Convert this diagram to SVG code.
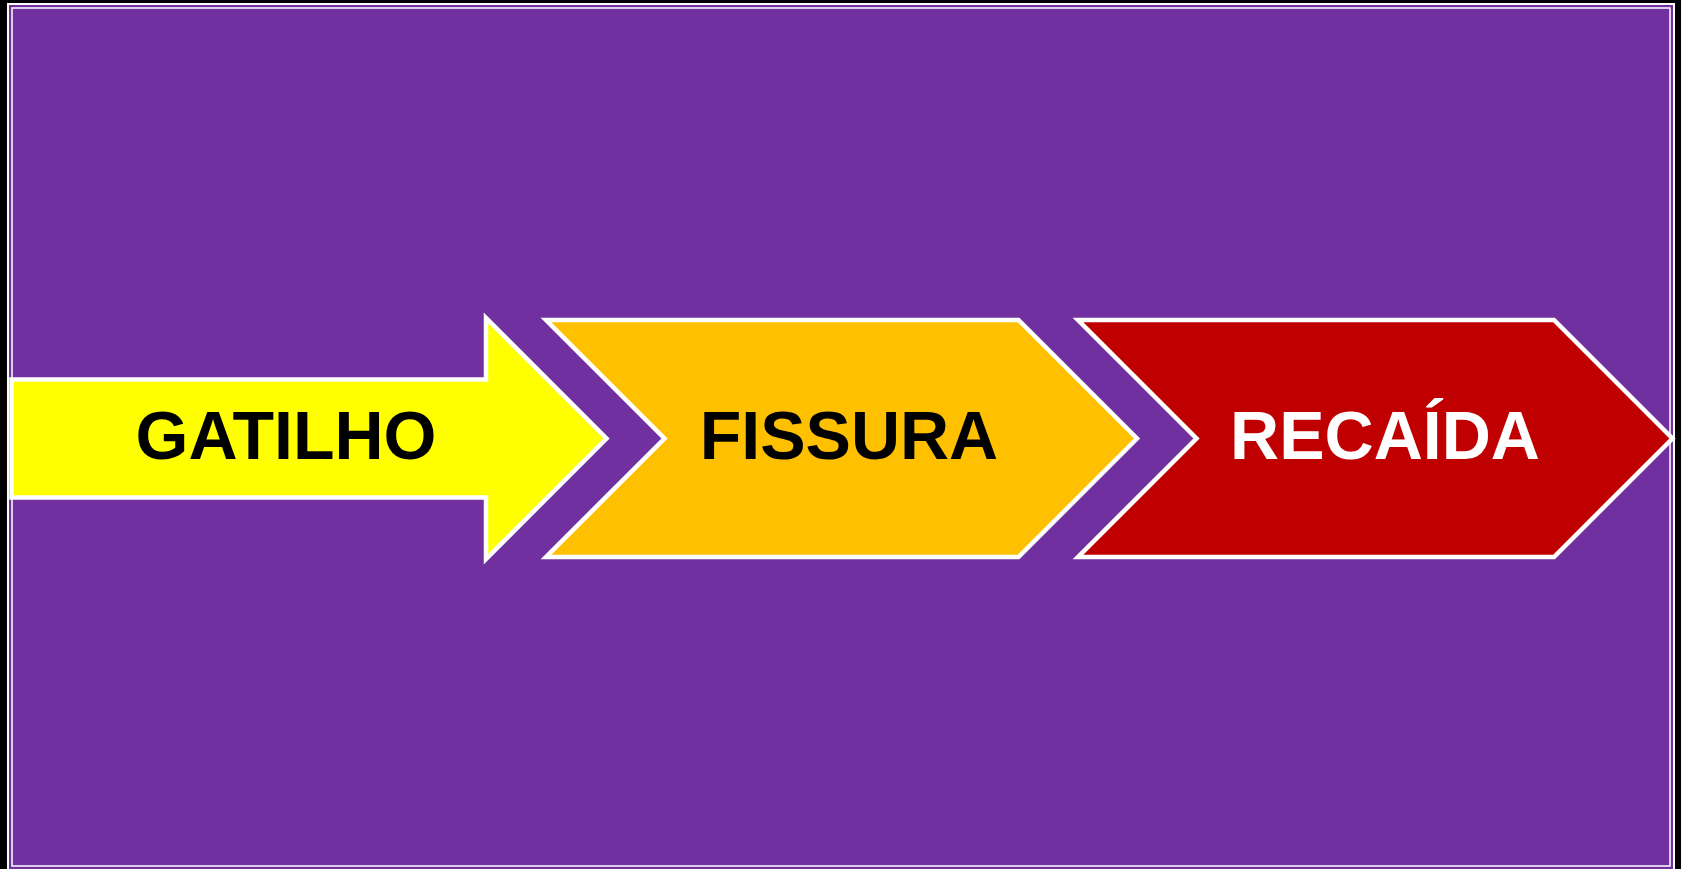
<svg xmlns="http://www.w3.org/2000/svg" width="1681" height="869" viewBox="0 0 1681 869">
<style>
.shape{stroke:#FFFFFF;stroke-width:4.5;stroke-linejoin:miter}
.lbl{font-family:"Liberation Sans",Arial,sans-serif;font-weight:bold;font-size:68px;text-anchor:middle}
</style>
<rect x="0" y="0" width="1681" height="869" fill="#000000"/>
<rect x="8" y="4" width="1666" height="880" fill="#7030A0" stroke="#FFFFFF" stroke-width="2"/>
<rect x="12" y="8" width="1658" height="858" fill="none" stroke="#FFFFFF" stroke-width="1.5"/>
<g id="gatilho">
<path class="shape" fill="#FFFF00" d="M11.5,379.5 H486 V318 L606.5,438.5 L486,559 V497.5 H11.5 Z"/>
<text class="lbl" x="286" y="459" fill="#000000">GATILHO</text>
</g>
<g id="fissura">
<path class="shape" fill="#FFC000" d="M546,320 H1018.5 L1137,438.5 L1018.5,557 H546 L664.5,438.5 Z"/>
<text class="lbl" x="849" y="459" fill="#000000">FISSURA</text>
</g>
<g id="recaida">
<path class="shape" fill="#C00000" d="M1078,320 H1554 L1672.5,438.5 L1554,557 H1078 L1196.5,438.5 Z"/>
<text class="lbl" x="1385" y="459" fill="#FFFFFF">RECAÍDA</text>
</g>
<g id="connectors"></g>
</svg>
